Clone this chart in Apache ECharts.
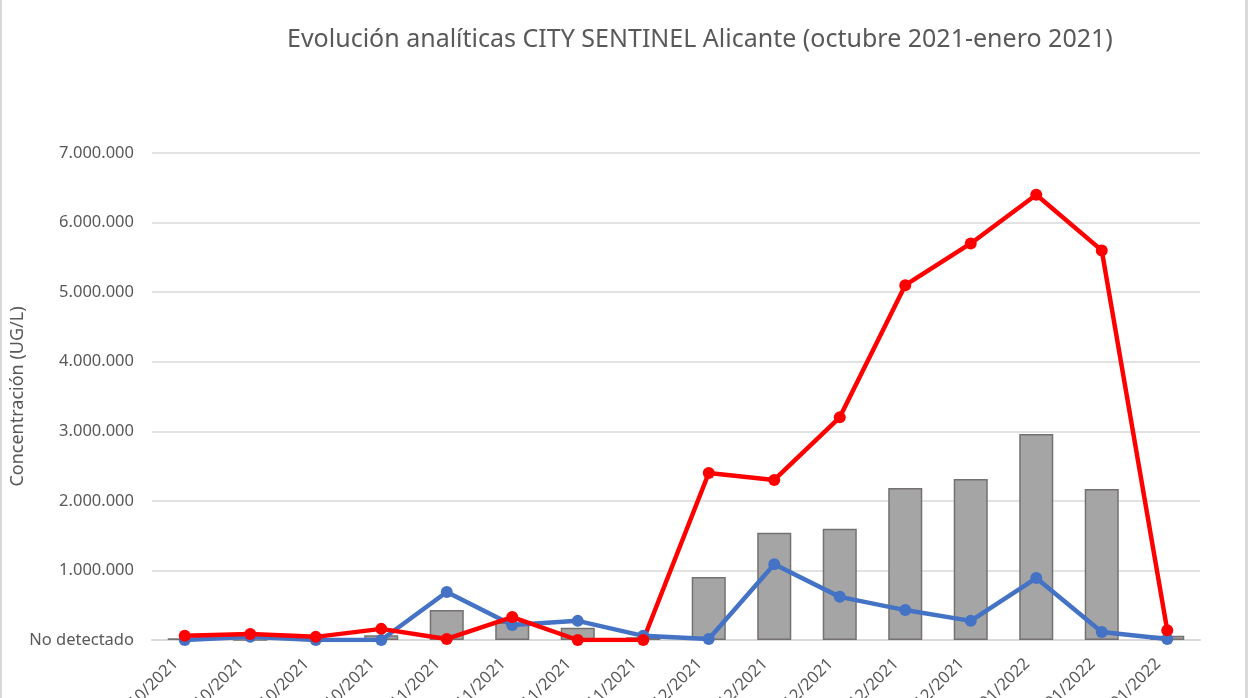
<!DOCTYPE html>
<html>
<head>
<meta charset="utf-8">
<script src="https://cdn.jsdelivr.net/npm/echarts@6/dist/echarts.min.js"></script>
<style>
html,body{margin:0;padding:0;background:#fff;}
#chart{width:1248px;height:698px;}
</style>
</head>
<body>
<div id="chart"></div>
<script>
var categories = ['04/10/2021','11/10/2021','18/10/2021','25/10/2021','02/11/2021','08/11/2021','15/11/2021','22/11/2021','01/12/2021','09/12/2021','13/12/2021','20/12/2021','27/12/2021','03/01/2022','10/01/2022','17/01/2022'];
var barValues = [25000, 0, 0, 70000, 430000, 250000, 177000, 40000, 905000, 1540000, 1600000, 2185000, 2315000, 2960000, 2170000, 60000];
var redValues = [60000, 85000, 45000, 160000, 15000, 330000, 0, 0, 2400000, 2300000, 3200000, 5100000, 5700000, 6400000, 5600000, 140000];
var blueValues = [0, 45000, 0, 0, 690000, 215000, 275000, 60000, 15000, 1090000, 620000, 430000, 275000, 890000, 115000, 15000];
var yTickLabels = ['No detectado','1.000.000','2.000.000','3.000.000','4.000.000','5.000.000','6.000.000','7.000.000'];
var titleText = 'Evolución analíticas CITY SENTINEL Alicante (octubre 2021-enero 2021)';
var yAxisName = 'Concentración (UG/L)';

var chart = echarts.init(document.getElementById('chart'), null, {renderer:'canvas'});
var font = '"Noto Sans", "Open Sans", sans-serif';
chart.setOption({
  animation: false,
  textStyle: {fontFamily: font},
  title: {
    text: titleText, left: 282, top: 22,
    textStyle: {fontFamily: font, fontSize: 25, fontWeight: 'normal', color: '#595959'}
  },
  graphic: [
    {type:'rect', shape:{x:0, y:0, width:2, height:698}, style:{fill:'#D9D9D9'}},
    {type:'rect', shape:{x:1245, y:0, width:3, height:698}, style:{fill:'#D9D9D9'}}
  ],
  grid: {left: 152, right: 48, top: 153, bottom: 58, containLabel: false, outerBoundsMode: 'none'},
  xAxis: {
    type: 'category', data: categories,
    axisLine: {show: true, lineStyle: {color: '#D9D9D9', width: 2}},
    axisTick: {show: false},
    axisLabel: {rotate: 45, margin: 12, padding: [0, 13, 0, 0], fontSize: 16.5, color: '#595959', fontFamily: font, interval: 0, hideOverlap: false}
  },
  yAxis: {
    type: 'value', min: 0, max: 7000000, interval: 1000000,
    name: yAxisName, nameLocation: 'middle', nameGap: 125, nameMoveOverlap: false,
    nameTextStyle: {fontSize: 18, color: '#595959', fontFamily: font},
    axisLine: {show: false}, axisTick: {show: false},
    splitLine: {lineStyle: {color: '#D9D9D9', width: 1.5}},
    axisLabel: {
      margin: 18, fontSize: 16.5, color: '#595959', fontFamily: font,
      formatter: function (v) { return yTickLabels[Math.round(v / 1000000)]; }
    }
  },
  series: [
    {
      type: 'bar', data: barValues, barWidth: '52%',
      itemStyle: {color: '#A5A5A5', borderColor: '#767171', borderWidth: 1.5}
    },
    {
      type: 'line', data: blueValues, symbol: 'circle', symbolSize: 12,
      lineStyle: {color: '#4472C4', width: 4.5}, itemStyle: {color: '#4472C4'}
    },
    {
      type: 'line', data: redValues, symbol: 'circle', symbolSize: 12,
      lineStyle: {color: '#FF0000', width: 4.5}, itemStyle: {color: '#FF0000'}
    }
  ]
});
</script>
</body>
</html>
